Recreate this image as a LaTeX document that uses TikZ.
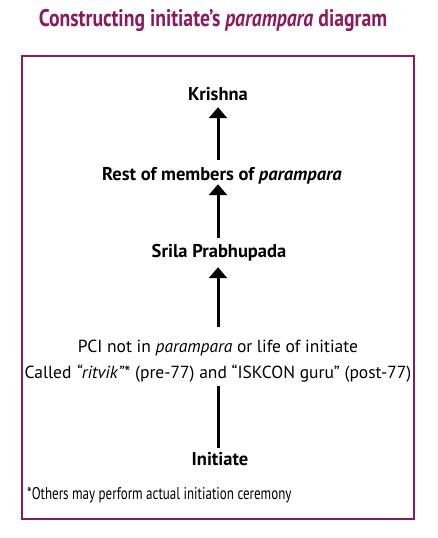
\documentclass[tikz,border=0pt]{standalone}
\usepackage{fontspec}
\setmainfont{PT Sans}
\newfontfamily\condfont[FakeStretch=0.82]{PT Sans}
\newfontfamily\notefont[FakeStretch=0.765]{PT Sans}
\usetikzlibrary{arrows.meta}
\definecolor{plum}{HTML}{8A1A5E}
\begin{document}
\begin{tikzpicture}[x=1pt,y=-1pt,
  lbl/.style={inner sep=0pt, text height=12pt, text depth=0pt, anchor=base},
  boldlbl/.style={lbl, font=\fontsize{18.5}{21}\selectfont\bfseries},
  reglbl/.style={lbl, font=\fontsize{17.5}{20}\selectfont},
  uparrow/.style={line width=3pt, -{Triangle[width=18pt,length=11pt]}},
  upline/.style={line width=3pt}]
\useasboundingbox (0,0) rectangle (437,538);
\node[inner sep=0pt, anchor=base, text=plum, font=\condfont\fontsize{24}{28}\selectfont\bfseries] (title) at (213,27) {Constructing initiate’s \textit{parampara} diagram};
\draw[plum, line width=2pt] (21.5,56) rectangle (414,519);
\node[boldlbl] (krishna) at (218,100) {Krishna};
\node[boldlbl] (rest) at (222,180) {Rest of members of \textit{parampara}};
\node[boldlbl] (srila) at (219,257) {Srila Prabhupada};
\node[reglbl] (pci) at (218,352) {PCI not in \textit{parampara} or life of initiate};
\node[reglbl] (called) at (218,378) {Called \textit{“ritvik”}* (pre-77) and “ISKCON guru” (post-77)};
\node[boldlbl] (init) at (220,465) {Initiate};
\node[inner sep=0pt, anchor=base west, font=\notefont\fontsize{17}{20}\selectfont] (note) at (27,499) {*Others may perform actual initiation ceremony};
\draw[uparrow, shorten <=8pt, shorten >=7pt] (rest.north -| krishna) -- (krishna.south);
\draw[uparrow, shorten <=7pt, shorten >=4pt] (srila.north -| krishna) -- (rest.south -| krishna);
\draw[uparrow, shorten <=13pt, shorten >=10pt] (pci.north -| krishna) -- (srila.south -| krishna);
\draw[upline, shorten <=5pt, shorten >=8pt] (init.north -| krishna) -- (called.south -| krishna);
\end{tikzpicture}
\end{document}
